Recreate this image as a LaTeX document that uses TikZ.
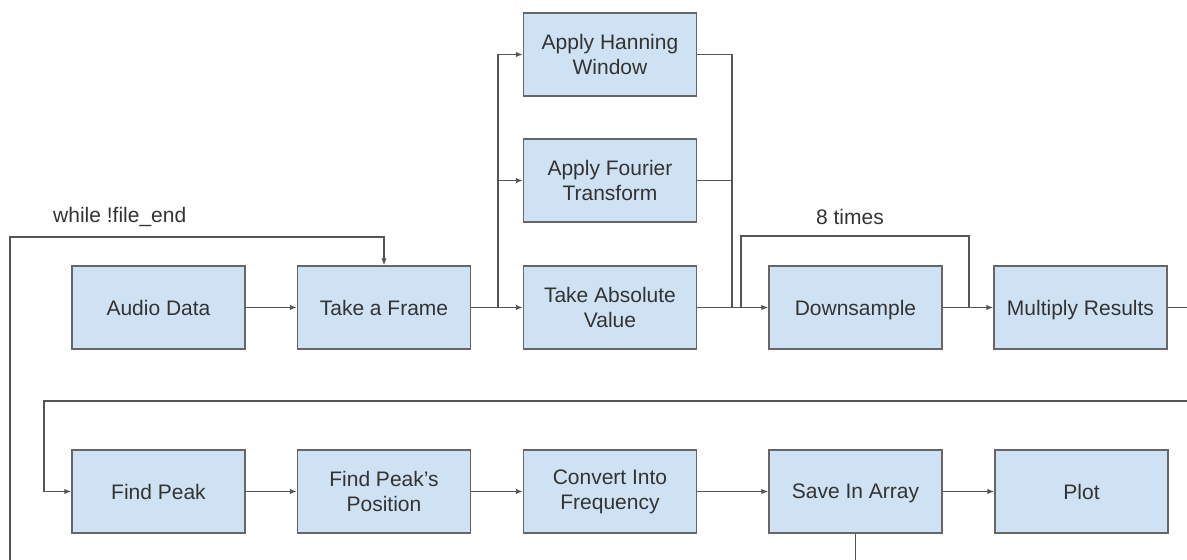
\documentclass[tikz,border=0pt]{standalone}
\usepackage{fontspec}
\setmainfont{Liberation Sans}
\usetikzlibrary{arrows.meta}
\definecolor{boxfill}{HTML}{CFE2F3}
\definecolor{boxline}{HTML}{666666}
\definecolor{wirecol}{HTML}{555555}
\definecolor{ink}{HTML}{333333}
\begin{document}
\begin{tikzpicture}[x=1pt,y=-1pt,
  stage/.style={draw=boxline, fill=boxfill, line width=1.4pt,
    minimum width=173pt, minimum height=83pt, inner sep=0pt,
    align=center, text=ink, font=\fontsize{21}{25}\selectfont},
  oneline/.style={text depth=0pt},
  wire/.style={draw=wirecol, line width=1.3pt},
  flow/.style={wire, -{Latex[length=7pt,width=5.5pt]}},
  tag/.style={text=ink, font=\fontsize{21}{25}\selectfont, inner sep=0pt}]
\useasboundingbox (0,0) rectangle (1187,560);
\clip (0,0) rectangle (1187,560);

% processing stages, first row
\node[stage] (audio)   at (158.5,307.5) {Audio Data};
\node[stage] (frame)   at (384,307.5)   {Take a Frame};
\node[stage] (hann)    at (610,54.5)    {Apply Hanning\\Window};
\node[stage] (fourier) at (610,180.5)   {Apply Fourier\\Transform};
\node[stage] (absv)    at (610,307.5)   {Take Absolute\\Value};
\node[stage, oneline] (down) at (855.5,307.5) {Downsample};
\node[stage, oneline] (mult) at (1080.5,307.5){Multiply Results};

% processing stages, second row
\node[stage] (peak)    at (158.5,491.5) {Find Peak};
\node[stage] (pos)     at (384,491.5)   {Find Peak's\\Position};
\node[stage] (freq)    at (610,491.5)   {Convert Into\\Frequency};
\node[stage, oneline] (save) at (855.5,491.5) {Save In Array};
\node[stage] (plot)    at (1081.5,491.5){Plot};

% loop labels
\node[tag, anchor=west] (whilelbl) at (53,217) {while !file\_end};
\node[tag] (timeslbl) at (850,217) {8 times};

% routing points
\coordinate (split)   at (498,307.5);
\coordinate (merge)   at (732,307.5);
\coordinate (loopL)   at (741,307.5);
\coordinate (loopR)   at (969,307.5);
\coordinate (loopTop) at (741,236);
\coordinate (exitR)   at (1200,307.5);
\coordinate (wrapR)   at (1200,401);
\coordinate (wrapL)   at (44,401);
\coordinate (saveLow) at (855.5,600);
\coordinate (backL)   at (10,600);
\coordinate (backTop) at (10,237);

% first row connectors
\draw[flow] (audio) -- (frame);
\draw[wire] (frame.east) -- (split);
\draw[flow] (split) -- (absv.west);
\draw[flow] (split) |- (hann.west);
\draw[flow] (split |- fourier.west) -- (fourier.west);
\draw[wire] (hann.east) -| (merge);
\draw[wire] (fourier.east) -| (merge);
\draw[flow] (absv.east) -- (down.west);
\draw[wire] (down.east) -- (loopR) |- (loopTop) -- (loopL);
\draw[flow] (loopR) -- (mult.west);

% wrap to second row
\draw[flow] (mult.east) -- (exitR) -- (wrapR) -- (wrapL) |- (peak.west);

% second row connectors
\draw[flow] (peak) -- (pos);
\draw[flow] (pos) -- (freq);
\draw[flow] (freq) -- (save);
\draw[flow] (save) -- (plot);

% outer loop back to the frame step
\draw[flow] (save.south) -- (saveLow) -- (backL) -- (backTop) -| (frame.north);
\end{tikzpicture}
\end{document}
